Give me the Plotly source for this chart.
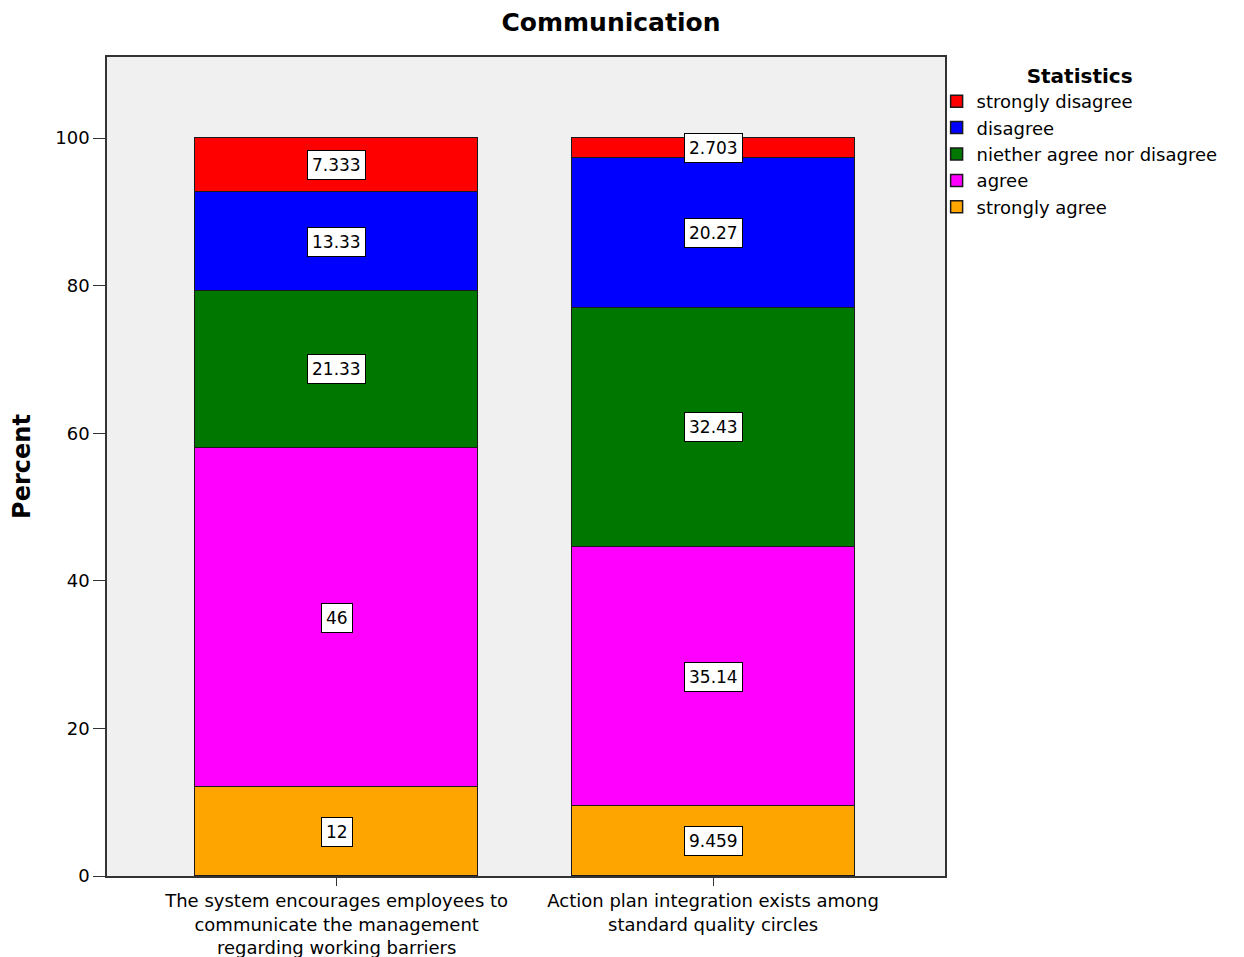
import plotly.graph_objects as go

# Survey items (x categories)
categories = [
    "The system encourages employees to<br>communicate the management<br>regarding working barriers",
    "Action plan integration exists among<br>standard quality circles",
]

# Percent of responses per answer, stacked bottom to top
strongly_agree = [12, 9.459]
agree = [46, 35.14]
neither = [21.33, 32.43]
disagree = [13.33, 20.27]
strongly_disagree = [7.333, 2.703]

# Printed labels for each segment
labels_strongly_agree = ["12", "9.459"]
labels_agree = ["46", "35.14"]
labels_neither = ["21.33", "32.43"]
labels_disagree = ["13.33", "20.27"]
labels_strongly_disagree = ["7.333", "2.703"]

y_ticks = [0, 20, 40, 60, 80, 100]

series = [
    ("strongly agree", strongly_agree, labels_strongly_agree, "#FFA500"),
    ("agree", agree, labels_agree, "#FF00FF"),
    ("niether agree nor disagree", neither, labels_neither, "#007800"),
    ("disagree", disagree, labels_disagree, "#0000FF"),
    ("strongly disagree", strongly_disagree, labels_strongly_disagree, "#FF0000"),
]

FONT = "DejaVu Sans"

fig = go.Figure()
base = [0.0] * len(categories)
annotations = []
for name, vals, labs, color in series:
    fig.add_trace(go.Bar(
        name=name,
        x=categories,
        y=vals,
        marker=dict(color=color, line=dict(color="#1a1a1a", width=1.5)),
        width=0.752,
    ))
    for i, (v, lab) in enumerate(zip(vals, labs)):
        annotations.append(dict(
            x=categories[i], y=base[i] + v / 2, xref="x", yref="y",
            text=lab, showarrow=False,
            font=dict(family=FONT, size=17, color="#000000"),
            bgcolor="#FFFFFF", bordercolor="#000000", borderwidth=1, borderpad=4,
        ))
        base[i] += v

fig.update_layout(
    barmode="stack",
    width=1244, height=957,
    margin=dict(l=107, r=299, t=57, b=81, autoexpand=False),
    paper_bgcolor="#FFFFFF",
    plot_bgcolor="#F0F0F0",
    title=dict(text="<b>Communication</b>", x=611 / 1244, xref="container", xanchor="center",
               y=1 - 22 / 957, yref="container", yanchor="middle",
               font=dict(family=FONT, size=25, color="#000000")),
    font=dict(family=FONT, size=18, color="#000000"),
    bargap=0,
    showlegend=True,
    legend=dict(
        title=dict(text="<b>Statistics</b>", side="top center", font=dict(family=FONT, size=20)),
        traceorder="reversed",
        x=0.99, xanchor="left", y=1.0, yanchor="top",
        font=dict(family=FONT, size=18),
        bgcolor="rgba(0,0,0,0)",
        itemwidth=30,
        tracegroupgap=0,
    ),
    annotations=annotations,
)

fig.update_xaxes(
    range=[-0.61, 1.616],
    automargin=False,
    showline=True, linecolor="#333333", linewidth=1.5, mirror=True,
    ticks="outside", ticklen=8, tickcolor="#333333",
    tickfont=dict(family=FONT, size=18),
    showgrid=False,
)
fig.update_yaxes(
    range=[0, 111.0],
    automargin=False,
    tickvals=y_ticks,
    showline=True, linecolor="#333333", linewidth=1.5, mirror=True,
    ticks="outside", ticklen=12, tickcolor="#333333",
    tickfont=dict(family=FONT, size=18),
    showgrid=False, zeroline=False,
    title=dict(text="<b>Percent</b>", font=dict(family=FONT, size=24), standoff=18),
)

fig.write_html("out.html")
